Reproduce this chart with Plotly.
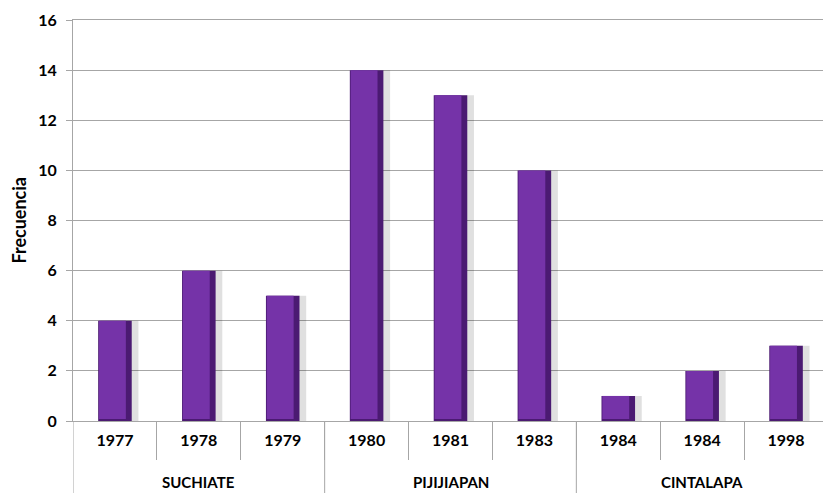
import plotly.graph_objects as go

municipios = ["SUCHIATE", "SUCHIATE", "SUCHIATE",
              "PIJIJIAPAN", "PIJIJIAPAN", "PIJIJIAPAN",
              "CINTALAPA", "CINTALAPA", "CINTALAPA"]
anios = ["1977", "1978", "1979", "1980", "1981", "1983", "1984", "1984", "1998"]
frecuencia = [4, 6, 5, 14, 13, 10, 1, 2, 3]
y_ticks = [0, 2, 4, 6, 8, 10, 12, 14, 16]

idx = list(range(len(anios)))
font_fam = "Lato, 'Open Sans', sans-serif"
grid_c = "#A6A6A6"

# page body has an 8px margin, so the figure is sized to fit the 831x493 window
W, H = 823, 485
M = dict(l=65, r=3, t=12, b=72)
plot_h = H - M["t"] - M["b"]
plot_w = W - M["l"] - M["r"]

fig = go.Figure()
# soft shadow
fig.add_trace(go.Bar(x=idx, y=frecuencia, width=0.45, offset=-0.17,
                     marker=dict(color="rgba(0,0,0,0.12)", line=dict(width=0)),
                     hoverinfo="skip", showlegend=False))
# dark edge body
fig.add_trace(go.Bar(x=idx, y=frecuencia, width=0.4, offset=-0.2,
                     marker=dict(color="#4B1A72", line=dict(width=0)),
                     showlegend=False))
# lighter face
fig.add_trace(go.Bar(x=idx, y=[v - 0.08 for v in frecuencia], base=0.08,
                     width=0.32, offset=-0.19,
                     marker=dict(color="#7533A8", line=dict(width=0)),
                     hoverinfo="skip", showlegend=False))

# group labels and dividers derived from the municipios list
groups = []
for i, m in enumerate(municipios):
    if not groups or groups[-1][0] != m:
        groups.append([m, i, i])
    else:
        groups[-1][2] = i

annotations = []
shapes = []
for name, a, b in groups:
    annotations.append(dict(x=(a + b) / 2, y=0, xref="x", yref="y",
                            text=name, showarrow=False, yanchor="middle",
                            yshift=-61,
                            font=dict(size=15, family=font_fam, weight="bold", color="#000")))
    shapes.append(dict(type="line", xref="x", yref="paper",
                       x0=a - 0.5, x1=a - 0.5, y0=0, y1=-M["b"] / plot_h,
                       line=dict(color=grid_c, width=1)))

annotations.append(dict(x=-55 / plot_w, y=0.5, xref="paper", yref="paper",
                        text="Frecuencia", showarrow=False, textangle=-90,
                        xanchor="center", yanchor="middle",
                        font=dict(size=18, family=font_fam, weight="bold", color="#000")))

fig.update_layout(
    width=W, height=H,
    margin=M,
    barmode="overlay",
    plot_bgcolor="white", paper_bgcolor="white",
    font=dict(family=font_fam, color="#000000", size=14),
    showlegend=False,
    annotations=annotations,
    shapes=shapes,
)
fig.update_yaxes(
    range=[0, 16], tickvals=y_ticks,
    showgrid=True, gridcolor=grid_c, gridwidth=1,
    showline=True, linecolor=grid_c, linewidth=1,
    ticks="outside", ticklen=6, tickcolor=grid_c,
    ticklabelstandoff=6, ticklabeloverflow="allow",
    tickfont=dict(size=16, family=font_fam, weight="bold", color="#000"),
    zeroline=False, automargin=False,
)
fig.update_xaxes(
    type="linear", range=[-0.5, len(anios) - 0.5],
    tickvals=idx, ticktext=anios,
    showline=True, mirror=True, linecolor=grid_c, linewidth=1,
    ticks="", showgrid=False, zeroline=False,
    ticklabelstandoff=5, ticklabeloverflow="allow",
    tickfont=dict(size=16, family=font_fam, weight="bold", color="#000"),
    minor=dict(tickvals=[i - 0.5 for i in idx[1:]], ticks="outside",
               ticklen=38, tickcolor=grid_c, showgrid=False),
    automargin=False,
)

fig.write_html("out.html")
